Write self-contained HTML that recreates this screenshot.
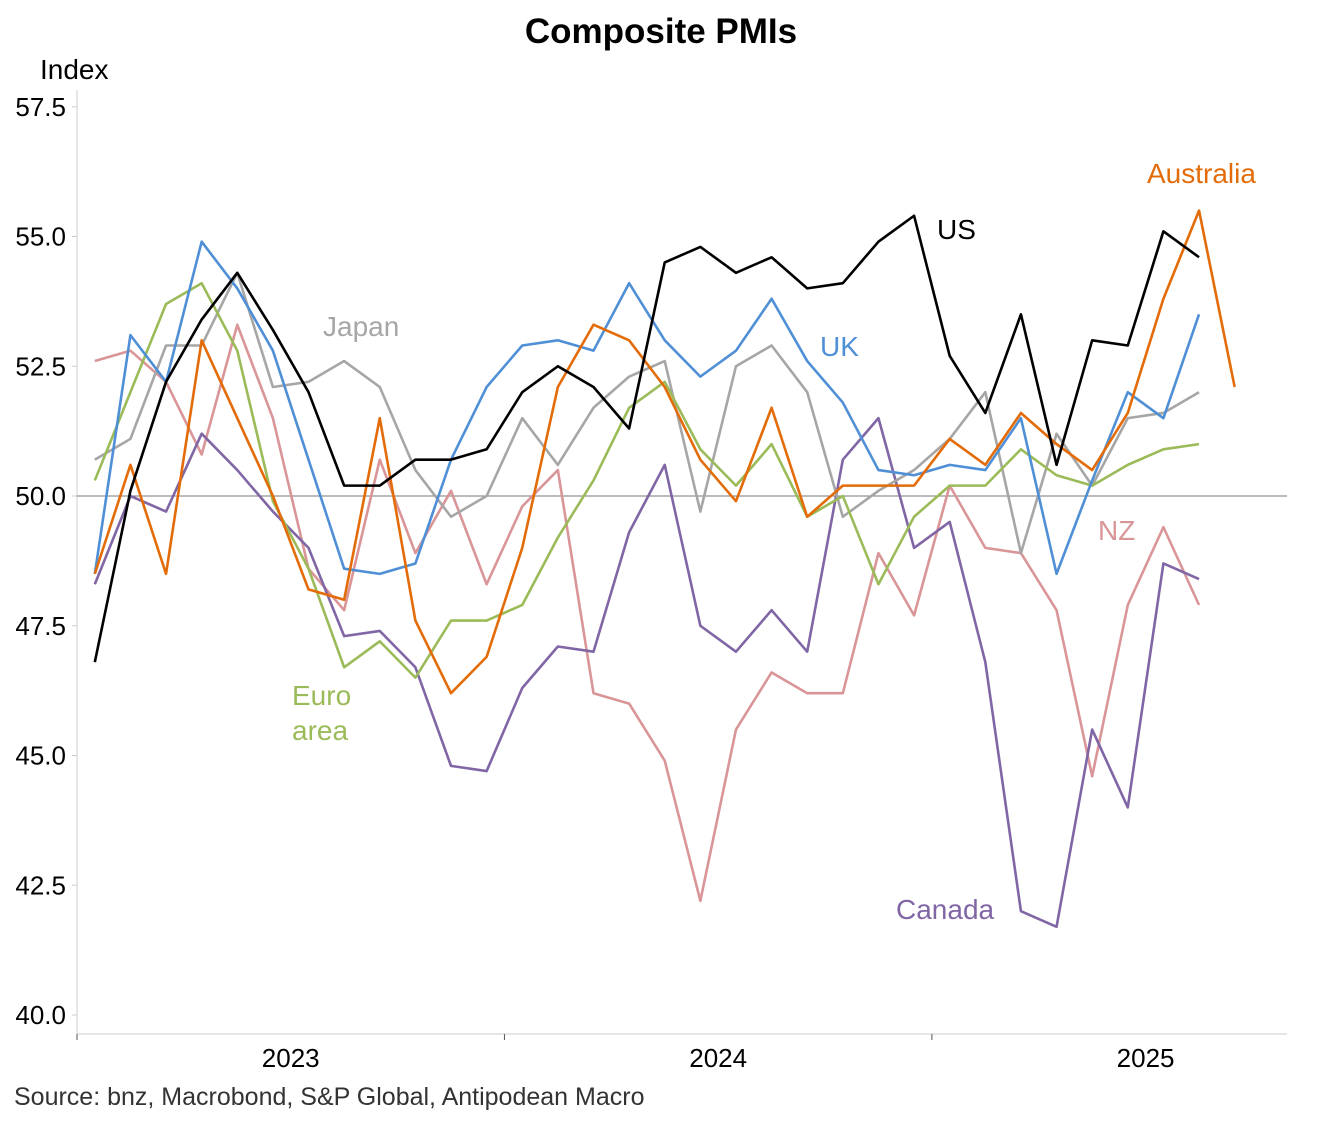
<!DOCTYPE html>
<html><head><meta charset="utf-8"><style>
body{margin:0;background:#fff;font-family:"Liberation Sans",Arial,sans-serif}
svg text{font-family:"Liberation Sans",Arial,sans-serif}
</style></head><body>
<svg id="chart" width="1323" height="1122" xmlns="http://www.w3.org/2000/svg">
<text x="661" y="43" font-size="35" font-weight="bold" text-anchor="middle">Composite PMIs</text>
<text x="40" y="79" font-size="28">Index</text>
<text x="14" y="1105" font-size="25" fill="#333">Source: bnz, Macrobond, S&amp;P Global, Antipodean Macro</text>
<g id="axes"></g><g id="series"></g><g id="labels"></g>
</svg>
<script>
const yTicks=[40,42.5,45,47.5,50,52.5,55,57.5];
const years=["2023","2024","2025"];
const us=[46.8,50.1,52.2,53.4,54.3,53.2,52.0,50.2,50.2,50.7,50.7,50.9,52.0,52.5,52.1,51.3,54.5,54.8,54.3,54.6,54.0,54.1,54.9,55.4,52.7,51.6,53.5,50.6,53.0,52.9,55.1,54.6];
const uk=[48.5,53.1,52.2,54.9,54.0,52.8,50.7,48.6,48.5,48.7,50.7,52.1,52.9,53.0,52.8,54.1,53.0,52.3,52.8,53.8,52.6,51.8,50.5,50.4,50.6,50.5,51.5,48.5,50.3,52.0,51.5,53.5];
const euro=[50.3,52.0,53.7,54.1,52.8,49.9,48.6,46.7,47.2,46.5,47.6,47.6,47.9,49.2,50.3,51.7,52.2,50.9,50.2,51.0,49.6,50.0,48.3,49.6,50.2,50.2,50.9,50.4,50.2,50.6,50.9,51.0];
const japan=[50.7,51.1,52.9,52.9,54.3,52.1,52.2,52.6,52.1,50.5,49.6,50.0,51.5,50.6,51.7,52.3,52.6,49.7,52.5,52.9,52.0,49.6,50.1,50.5,51.1,52.0,48.9,51.2,50.2,51.5,51.6,52.0];
const australia=[48.5,50.6,48.5,53.0,51.5,50.0,48.2,48.0,51.5,47.6,46.2,46.9,49.0,52.1,53.3,53.0,52.1,50.7,49.9,51.7,49.6,50.2,50.2,50.2,51.1,50.6,51.6,51.0,50.5,51.6,53.8,55.5,52.1];
const nz=[52.6,52.8,52.2,50.8,53.3,51.5,48.6,47.8,50.7,48.9,50.1,48.3,49.8,50.5,46.2,46.0,44.9,42.2,45.5,46.6,46.2,46.2,48.9,47.7,50.2,49.0,48.9,47.8,44.6,47.9,49.4,47.9];
const canada=[48.3,50.0,49.7,51.2,50.5,49.7,49.0,47.3,47.4,46.7,44.8,44.7,46.3,47.1,47.0,49.3,50.6,47.5,47.0,47.8,47.0,50.7,51.5,49.0,49.5,46.8,42.0,41.7,45.5,44.0,48.7,48.4];
const NS="http://www.w3.org/2000/svg";
const X0=77,MW=35.62;
const xM=i=>X0+MW*(i+0.5);
const yV=v=>496-(v-50)*51.9;
function mk(t,a,p){const e=document.createElementNS(NS,t);for(const k in a)e.setAttribute(k,a[k]);p.appendChild(e);return e;}
const ax=document.getElementById('axes');
const l1=mk('line',{x1:X0,x2:X0,y1:90,y2:1034,stroke:'#ccc'},ax);


const l2=mk('line',{x1:X0,x2:1287,y1:1034,y2:1034,stroke:'#ccc'},ax);


const l3=mk('line',{x1:X0,x2:1287,y1:yV(50),y2:yV(50),stroke:'#777','stroke-width':1},ax);


yTicks.forEach(v=>{
 const t=mk('text',{x:66,y:yV(v)+9,'font-size':26,'text-anchor':'end'},ax);t.textContent=v.toFixed(1);
 
 
 const tk=mk('line',{x1:72,x2:X0,y1:yV(v),y2:yV(v),stroke:'#ccc'},ax);
 
 
});
years.forEach((y,i)=>{
 const x=X0+MW*12*i;
 const tk=mk('line',{x1:x,x2:x,y1:1034,y2:1040,stroke:'#555'},ax);
 
 
 const t=mk('text',{x:x+MW*6,y:1067,'font-size':26,'text-anchor':'middle'},ax);t.textContent=y;
 
 
});
const tk3=mk('line',{x1:X0+MW*36,x2:X0+MW*36,y1:1034,y2:1040,stroke:'#555'},ax);


const sg=document.getElementById('series');
const series=[["nz",nz,"#d99597"],["canada",canada,"#8066a5"],["japan",japan,"#a6a6a6"],["euro-area",euro,"#9bbb59"],["uk",uk,"#4f8fd6"],["australia",australia,"#e36c09"],["us",us,"#000"]];
series.forEach(([n,d,c])=>{
 const p=mk('polyline',{points:d.map((v,i)=>xM(i)+','+yV(v)).join(' '),fill:'none',stroke:c,'stroke-width':2.6,'stroke-linejoin':'round'},sg);
 
 
});
const lg=document.getElementById('labels');
[["US",937,239,"#000"],["Australia",1147,183,"#e36c09"],["UK",820,356,"#4f8fd6"],["Japan",323,336,"#a6a6a6"],["Euro",292,705,"#9bbb59"],["area",292,740,"#9bbb59"],["NZ",1098,540,"#d99597"],["Canada",896,919,"#8066a5"]].forEach(([s,x,y,c])=>{
 const t=mk('text',{x:x,y:y,'font-size':28,fill:c},lg);t.textContent=s;
 
 
});
</script>
</body></html>
